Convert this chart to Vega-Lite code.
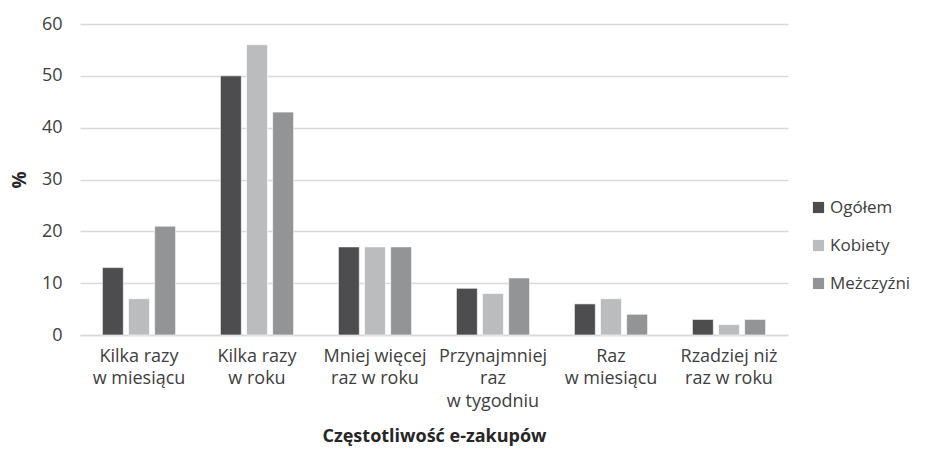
{
  "$schema": "https://vega.github.io/schema/vega-lite/v6.json",
  "width": 708,
  "height": 311,
  "autosize": {"type": "none"},
  "padding": {"left": 80, "top": 24, "right": 143, "bottom": 121},
  "background": "white",
  "config": {
    "font": "Open Sans",
    "view": {"stroke": null}
  },
  "data": {
    "values": [
      {"kat": "Kilka razy|w miesiącu", "seria": "Ogółem", "v": 13},
      {"kat": "Kilka razy|w miesiącu", "seria": "Kobiety", "v": 7},
      {"kat": "Kilka razy|w miesiącu", "seria": "Meżczyźni", "v": 21},
      {"kat": "Kilka razy|w roku", "seria": "Ogółem", "v": 50},
      {"kat": "Kilka razy|w roku", "seria": "Kobiety", "v": 56},
      {"kat": "Kilka razy|w roku", "seria": "Meżczyźni", "v": 43},
      {"kat": "Mniej więcej|raz w roku", "seria": "Ogółem", "v": 17},
      {"kat": "Mniej więcej|raz w roku", "seria": "Kobiety", "v": 17},
      {"kat": "Mniej więcej|raz w roku", "seria": "Meżczyźni", "v": 17},
      {"kat": "Przynajmniej|raz|w tygodniu", "seria": "Ogółem", "v": 9},
      {"kat": "Przynajmniej|raz|w tygodniu", "seria": "Kobiety", "v": 8},
      {"kat": "Przynajmniej|raz|w tygodniu", "seria": "Meżczyźni", "v": 11},
      {"kat": "Raz|w miesiącu", "seria": "Ogółem", "v": 6},
      {"kat": "Raz|w miesiącu", "seria": "Kobiety", "v": 7},
      {"kat": "Raz|w miesiącu", "seria": "Meżczyźni", "v": 4},
      {"kat": "Rzadziej niż|raz w roku", "seria": "Ogółem", "v": 3},
      {"kat": "Rzadziej niż|raz w roku", "seria": "Kobiety", "v": 2},
      {"kat": "Rzadziej niż|raz w roku", "seria": "Meżczyźni", "v": 3}
    ]
  },
  "mark": {"type": "bar", "stroke": "white", "strokeWidth": 0.6},
  "encoding": {
    "x": {
      "field": "kat",
      "type": "nominal",
      "sort": null,
      "scale": {"paddingInner": 0.38, "paddingOuter": 0.19},
      "axis": {
        "title": "Częstotliwość e-zakupów",
        "titleFontSize": 18,
        "titleFontWeight": "bold",
        "titleColor": "#262626",
        "titlePadding": 17,
        "labelExpr": "split(datum.label, '|')",
        "labelAngle": 0,
        "labelFontSize": 18,
        "labelColor": "#404040",
        "labelLineHeight": 22.5,
        "labelPadding": 12,
        "ticks": false,
        "domainColor": "#d9d9d9",
        "domainWidth": 1.5,
        "labelLimit": 200
      }
    },
    "xOffset": {
      "field": "seria",
      "type": "nominal",
      "sort": ["Ogółem", "Kobiety", "Meżczyźni"],
      "scale": {"paddingInner": 0.2}
    },
    "y": {
      "field": "v",
      "type": "quantitative",
      "scale": {"domain": [0, 60], "nice": false},
      "axis": {
        "title": "%",
        "titleFontSize": 19,
        "titleFontWeight": "bold",
        "titleColor": "#262626",
        "titlePadding": 12,
        "values": [0, 10, 20, 30, 40, 50, 60],
        "labelFontSize": 18,
        "labelColor": "#404040",
        "labelPadding": 18,
        "ticks": false,
        "domain": false,
        "gridColor": "#d9d9d9",
        "gridWidth": 1.5
      }
    },
    "color": {
      "field": "seria",
      "type": "nominal",
      "scale": {
        "domain": ["Ogółem", "Kobiety", "Meżczyźni"],
        "range": ["#4d4d4f", "#bbbcbe", "#939496"]
      },
      "legend": {
        "title": null,
        "orient": "none",
        "legendX": 730,
        "legendY": 175,
        "symbolType": "square",
        "symbolSize": 125,
        "symbolStrokeWidth": 0,
        "labelFontSize": 17,
        "labelColor": "#404040",
        "rowPadding": 20,
        "labelOffset": 3
      }
    }
  }
}
